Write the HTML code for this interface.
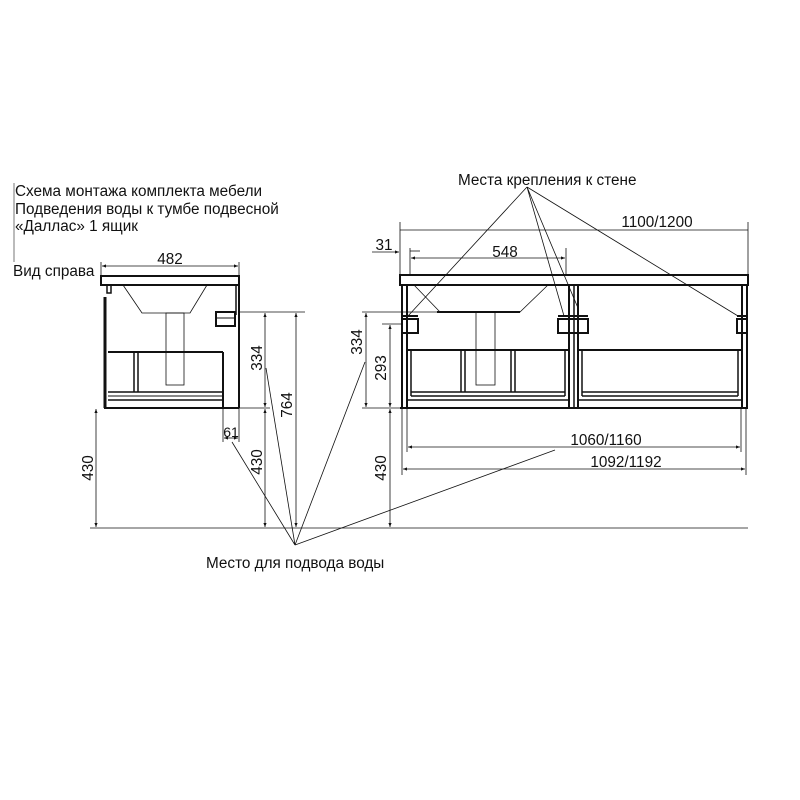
<!DOCTYPE html>
<html><head><meta charset="utf-8"><style>
html,body{margin:0;padding:0;background:#fff}
svg{display:block}
text{font-family:"Liberation Sans",sans-serif;fill:#111}
</style></head><body>
<svg width="800" height="800" viewBox="0 0 800 800" xmlns="http://www.w3.org/2000/svg">
<defs>
<marker id="a" viewBox="0 0 10 10" refX="10" refY="5" markerWidth="7" markerHeight="5" orient="auto-start-reverse"><path d="M0,1 L10,5 L0,9z" fill="#111"/></marker>
</defs>
<g font-size="15.3">
<text x="15" y="196">Схема монтажа комплекта мебели</text>
<text x="15" y="214">Подведения воды к тумбе подвесной</text>
<text x="15" y="231">«Даллас» 1 ящик</text>
<text x="13" y="276">Вид справа</text>
<text x="458" y="185">Места крепления к стене</text>
<text x="206" y="568">Место для подвода воды</text>
</g>
<line x1="14" y1="183" x2="14" y2="262" stroke="#777" stroke-width="1"/>

<!-- LEFT VIEW -->
<g stroke="#111" fill="none">
<rect x="101" y="276" width="138" height="9" stroke-width="2"/>
<line x1="105" y1="297" x2="105" y2="408" stroke-width="3"/>
<path d="M107,285 V293 H111 V285" stroke-width="1.5"/>
<line x1="236" y1="285" x2="236" y2="315" stroke-width="1.5"/>
<line x1="239" y1="285" x2="239" y2="408" stroke-width="2"/>
<line x1="104" y1="408" x2="239" y2="408" stroke-width="2"/>
<path d="M123,285 L142,313 H190 L207,285" stroke-width="0.8"/>
<rect x="166" y="313" width="18" height="72" stroke-width="0.8"/>
<rect x="216" y="312" width="19" height="14" stroke-width="2"/>
<line x1="216" y1="318" x2="235" y2="318" stroke-width="1"/>
<line x1="108" y1="352" x2="223" y2="352" stroke-width="2"/>
<line x1="223" y1="352" x2="223" y2="408" stroke-width="2"/>
<line x1="134" y1="352" x2="134" y2="392" stroke-width="1.5"/>
<line x1="138" y1="352" x2="138" y2="392" stroke-width="1.5"/>
<line x1="108" y1="392" x2="223" y2="392" stroke-width="1.5"/>
<line x1="108" y1="396" x2="223" y2="396" stroke-width="1"/>
<line x1="108" y1="400" x2="223" y2="400" stroke-width="1.5"/>
</g>

<!-- RIGHT VIEW -->
<g stroke="#111" fill="none">
<rect x="400" y="275" width="348" height="10" stroke-width="2"/>
<line x1="402" y1="285" x2="402" y2="408" stroke-width="2"/>
<line x1="407" y1="285" x2="407" y2="408" stroke-width="2"/>
<line x1="569" y1="285" x2="569" y2="408" stroke-width="2"/>
<line x1="574" y1="285" x2="574" y2="408" stroke-width="1.5"/>
<line x1="578" y1="285" x2="578" y2="408" stroke-width="2"/>
<line x1="742" y1="285" x2="742" y2="408" stroke-width="2"/>
<line x1="747" y1="285" x2="747" y2="408" stroke-width="2"/>
<line x1="400" y1="408" x2="748" y2="408" stroke-width="2"/>
<line x1="407" y1="350" x2="569" y2="350" stroke-width="2"/>
<line x1="578" y1="350" x2="742" y2="350" stroke-width="2"/>
<path d="M437,312 H520 L548,285" stroke-width="0.8"/>
<line x1="437" y1="312" x2="520" y2="312" stroke-width="2"/>
<line x1="414" y1="285" x2="440" y2="312" stroke-width="0.8"/>
<rect x="476" y="312" width="19" height="73" stroke-width="0.8"/>
<rect x="402" y="319" width="16" height="14" stroke-width="2"/>
<rect x="558" y="319" width="30" height="14" stroke-width="2"/>
<rect x="737" y="319" width="10" height="14" stroke-width="2"/>
<line x1="402" y1="316" x2="418" y2="316" stroke-width="2"/>
<line x1="558" y1="316" x2="588" y2="316" stroke-width="2"/>
<line x1="737" y1="316" x2="747" y2="316" stroke-width="2"/>
<g stroke-width="1.5">
<line x1="411" y1="350" x2="411" y2="396"/><line x1="461" y1="350" x2="461" y2="392"/><line x1="465" y1="350" x2="465" y2="392"/>
<line x1="511" y1="350" x2="511" y2="392"/><line x1="515" y1="350" x2="515" y2="392"/><line x1="565" y1="350" x2="565" y2="396"/>
<line x1="582" y1="350" x2="582" y2="396"/><line x1="738" y1="350" x2="738" y2="396"/>
<line x1="411" y1="392" x2="565" y2="392"/><line x1="582" y1="392" x2="738" y2="392"/>
<line x1="411" y1="396" x2="565" y2="396"/><line x1="582" y1="396" x2="738" y2="396"/>
<line x1="407" y1="400" x2="569" y2="400"/><line x1="578" y1="400" x2="742" y2="400"/>
</g>
</g>

<!-- DIMENSIONS -->
<g stroke="#111" stroke-width="0.8" fill="none">
<line x1="90" y1="528" x2="748" y2="528"/>
<line x1="101" y1="262" x2="101" y2="276"/><line x1="239" y1="262" x2="239" y2="276"/>
<line x1="102" y1="266" x2="238" y2="266" marker-start="url(#a)" marker-end="url(#a)"/>
<line x1="239" y1="312" x2="305" y2="312"/>
<line x1="265" y1="313" x2="265" y2="407" marker-start="url(#a)" marker-end="url(#a)"/>
<line x1="265" y1="409" x2="265" y2="527" marker-start="url(#a)" marker-end="url(#a)"/>
<line x1="296" y1="313" x2="296" y2="527" marker-start="url(#a)" marker-end="url(#a)"/>
<line x1="239" y1="408" x2="270" y2="408"/>
<line x1="96" y1="409" x2="96" y2="527" marker-start="url(#a)" marker-end="url(#a)"/>
<line x1="223" y1="408" x2="223" y2="442"/><line x1="239" y1="408" x2="239" y2="442"/>
<line x1="224" y1="438" x2="238" y2="438" marker-start="url(#a)" marker-end="url(#a)"/>
<line x1="400" y1="222" x2="400" y2="275"/><line x1="748" y1="222" x2="748" y2="275"/>
<line x1="400" y1="230" x2="748" y2="230"/>
<line x1="372" y1="252" x2="399" y2="252" marker-end="url(#a)"/>
<line x1="410" y1="248" x2="410" y2="275"/><line x1="566" y1="248" x2="566" y2="275"/>
<line x1="411" y1="258" x2="565" y2="258" marker-start="url(#a)" marker-end="url(#a)"/>
<line x1="410" y1="251" x2="420" y2="251"/>
<line x1="362" y1="312" x2="437" y2="312"/>
<line x1="382" y1="324" x2="402" y2="324"/>
<line x1="362" y1="408" x2="400" y2="408"/>
<line x1="366" y1="313" x2="366" y2="407" marker-start="url(#a)" marker-end="url(#a)"/>
<line x1="390" y1="325" x2="390" y2="407" marker-start="url(#a)" marker-end="url(#a)"/>
<line x1="390" y1="409" x2="390" y2="527" marker-start="url(#a)" marker-end="url(#a)"/>
<line x1="402" y1="408" x2="402" y2="475"/><line x1="407" y1="408" x2="407" y2="452"/>
<line x1="741" y1="408" x2="741" y2="452"/><line x1="746" y1="408" x2="746" y2="475"/>
<line x1="408" y1="447" x2="740" y2="447" marker-start="url(#a)" marker-end="url(#a)"/>
<line x1="403" y1="469" x2="745" y2="469" marker-start="url(#a)" marker-end="url(#a)"/>
<path d="M527,187 L408,316 M527,187 L564,316 M527,187 L578,308 M527,187 L738,316"/>
<path d="M295,545 L232,442 M295,545 L266,368 M295,545 L365,362 M295,545 L555,450"/>
</g>
<g font-size="15.3" text-anchor="middle">
<text x="170" y="264">482</text>
<text x="231" y="437" font-size="14">61</text>
<text x="657" y="227">1100/1200</text>
<text x="384" y="250">31</text>
<text x="505" y="257">548</text>
<text x="606" y="445">1060/1160</text>
<text x="626" y="467">1092/1192</text>
<text transform="translate(262,358) rotate(-90)">334</text>
<text transform="translate(262,462) rotate(-90)">430</text>
<text transform="translate(292,405) rotate(-90)">764</text>
<text transform="translate(93,468) rotate(-90)">430</text>
<text transform="translate(362,342) rotate(-90)">334</text>
<text transform="translate(386,368) rotate(-90)">293</text>
<text transform="translate(386,468) rotate(-90)">430</text>
</g>
</svg>
</body></html>
